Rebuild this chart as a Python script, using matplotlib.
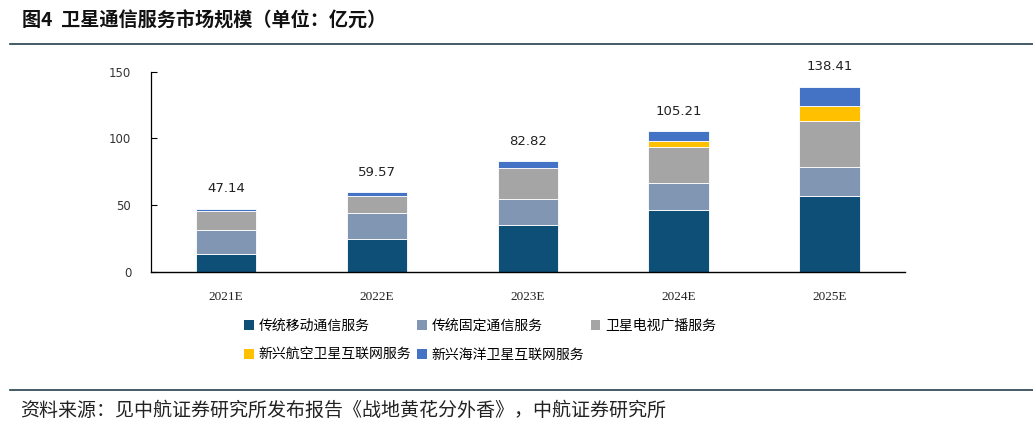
import matplotlib
matplotlib.use("Agg")
import matplotlib.pyplot as plt
from matplotlib.patches import Patch
from matplotlib.lines import Line2D
import numpy as np

plt.rcParams['font.family'] = ['Noto Sans CJK SC', 'DejaVu Sans']

years = ["2021E", "2022E", "2023E", "2024E", "2025E"]
series_names = ["传统移动通信服务", "传统固定通信服务", "卫星电视广播服务",
                "新兴航空卫星互联网服务", "新兴海洋卫星互联网服务"]
mobile = [13.3, 24.5, 35.0, 46.3, 57.0]
fixed = [18.3, 19.3, 19.5, 20.0, 21.3]
tv = [14.0, 13.0, 23.0, 27.0, 35.0]
aviation = [0.0, 0.0, 0.6, 5.0, 11.2]
maritime = [1.54, 2.77, 4.72, 6.91, 13.91]
totals = [47.14, 59.57, 82.82, 105.21, 138.41]
total_labels = ["47.14", "59.57", "82.82", "105.21", "138.41"]
yticks = [0, 50, 100, 150]

colors = ["#0D4F77", "#8096B3", "#A5A5A5", "#FFC000", "#4472C4"]

fig = plt.figure(figsize=(10.33, 4.30), dpi=100)
ax = fig.add_axes([0.1459, 0.3681, 0.876 - 0.1459, 0.8333 - 0.3681])

x = np.arange(len(years))
bottom = np.zeros(len(years))
for vals, c in zip([mobile, fixed, tv, aviation, maritime], colors):
    ax.bar(x, vals, width=0.4, bottom=bottom, color=c, edgecolor="white", linewidth=0.6)
    bottom += np.array(vals)

for xi, t, lab in zip(x, totals, total_labels):
    ax.annotate(lab, (xi, t), xytext=(0, 14.5), textcoords="offset points",
                ha="center", va="center", fontsize=9.5, family="DejaVu Sans", color="#222222")

ax.set_xlim(-0.5, 4.5)
ax.set_ylim(0, 150)
ax.set_yticks(yticks)
ax.set_yticklabels([str(v) for v in yticks], family="DejaVu Sans", fontsize=8.5, color="#333333")
ax.set_xticks(x)
ax.set_xticklabels(years, family="Liberation Serif", fontsize=9.5, color="#222222")
ax.tick_params(axis="y", direction="in", length=4, width=0.8, pad=14)
ax.tick_params(axis="x", length=0, pad=14)
for s in ["top", "right"]:
    ax.spines[s].set_visible(False)
ax.spines["left"].set_linewidth(0.9)
ax.spines["bottom"].set_linewidth(1.0)

handles = [Patch(facecolor=c, edgecolor="none") for c in colors]
order = [0, 3, 1, 4, 2]
fig.legend([handles[i] for i in order], [series_names[i] for i in order],
           loc="upper left", bbox_to_anchor=(0.236, 0.258), ncol=3, frameon=False,
           fontsize=10, handlelength=0.7, handleheight=0.7, handletextpad=0.35,
           columnspacing=0.45, labelspacing=1.05, borderpad=0, borderaxespad=0)

fig.text(22 / 1033, 1 - 21 / 430, "图4  卫星通信服务市场规模（单位：亿元）", fontsize=13.8,
         fontweight="bold", va="center", ha="left", color="#111111")
fig.add_artist(Line2D([10 / 1033, 1.0], [1 - 44 / 430] * 2, color="#24404E", lw=1.2))
fig.add_artist(Line2D([10 / 1033, 1.0], [1 - 390 / 430] * 2, color="#24404E", lw=1.2))
fig.text(20 / 1033, 1 - 410 / 430, "资料来源：见中航证券研究所发布报告《战地黄花分外香》，中航证券研究所",
         fontsize=13.7, va="center", ha="left", color="#222222")

fig.savefig("out.png", dpi=100)
